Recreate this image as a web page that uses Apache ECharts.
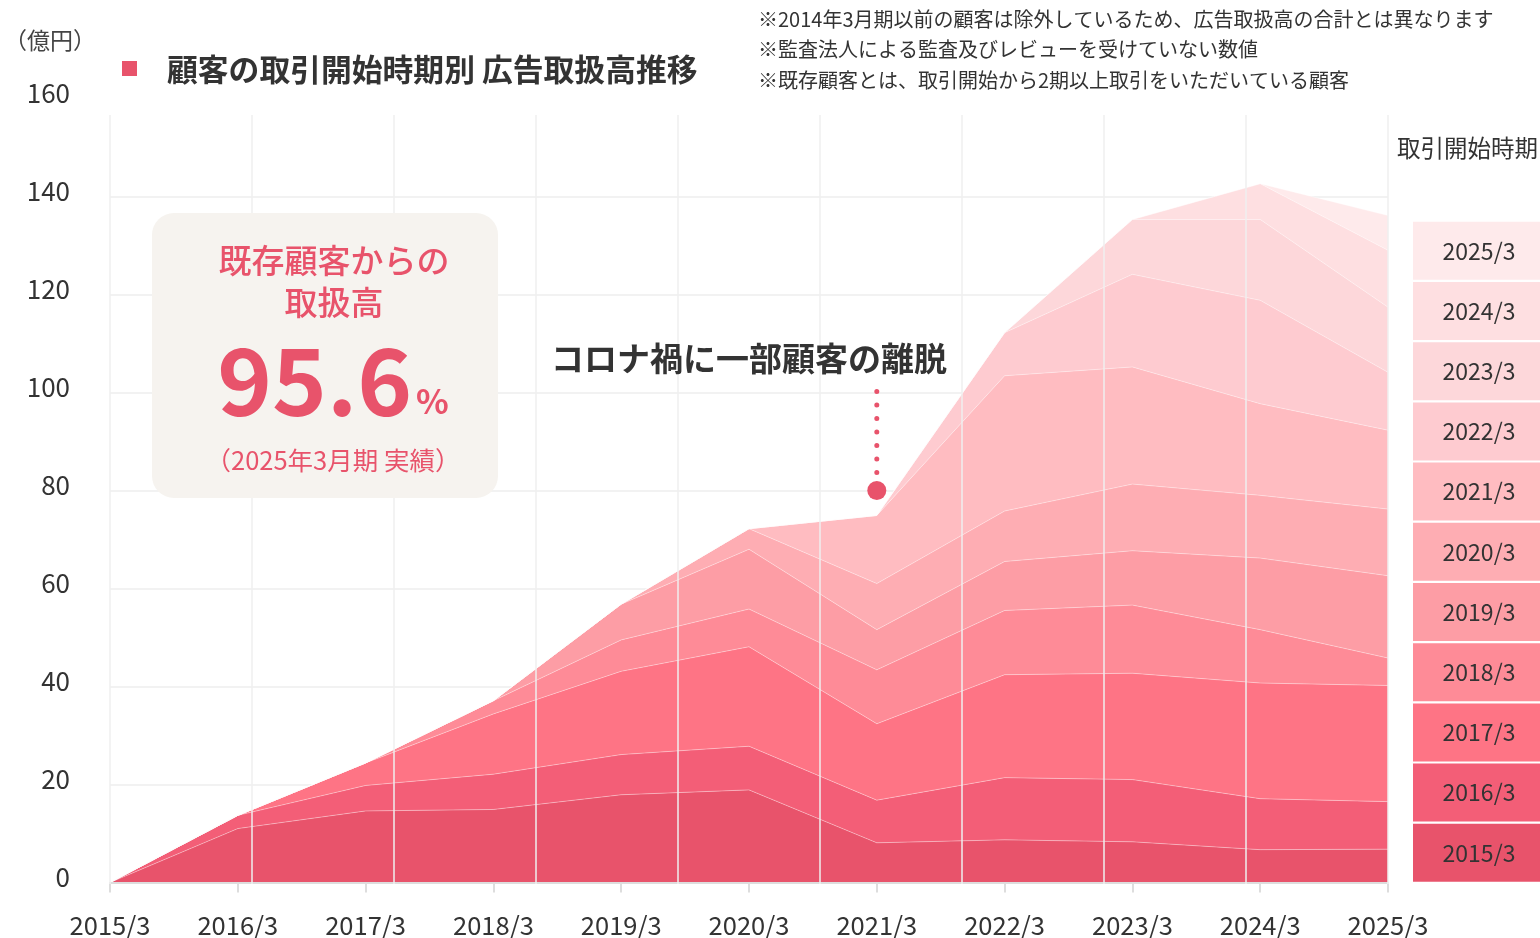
<!DOCTYPE html>
<html>
<head>
<meta charset="utf-8">
<script src="https://cdn.jsdelivr.net/npm/echarts@6/dist/echarts.min.js"></script>
<style>
html,body{margin:0;padding:0;background:#fff;}
#main{width:1540px;height:938px;}
</style>
</head>
<body>
<div id="main"></div>
<script>
// ---- data ----
const categories = ['2015/3','2016/3','2017/3','2018/3','2019/3','2020/3','2021/3','2022/3','2023/3','2024/3','2025/3'];
const cohorts = ['2015/3','2016/3','2017/3','2018/3','2019/3','2020/3','2021/3','2022/3','2023/3','2024/3','2025/3'];
const c2015 = [0, 11.0, 14.6, 14.9, 17.9, 18.9, 8.1, 8.7, 8.3, 6.7, 6.8];
const c2016 = [0, 2.7, 5.2, 7.2, 8.2, 8.9, 8.7, 12.7, 12.7, 10.4, 9.7];
const c2017 = [0, 0, 4.6, 12.3, 17.0, 20.3, 15.6, 21.0, 21.7, 23.6, 23.7];
const c2018 = [0, 0, 0, 2.7, 6.4, 7.7, 11.0, 13.1, 13.9, 10.9, 5.6];
const c2019 = [0, 0, 0, 0, 7.3, 12.2, 8.2, 10.0, 11.1, 14.6, 16.8];
const c2020 = [0, 0, 0, 0, 0, 4.2, 9.4, 10.3, 13.6, 12.8, 13.6];
const c2021 = [0, 0, 0, 0, 0, 0, 13.9, 27.6, 23.9, 18.7, 16.1];
const c2022 = [0, 0, 0, 0, 0, 0, 0, 8.8, 18.9, 21.1, 11.8];
const c2023 = [0, 0, 0, 0, 0, 0, 0, 0, 11.2, 16.5, 13.3];
const c2024 = [0, 0, 0, 0, 0, 0, 0, 0, 0, 7.3, 11.6];
const c2025 = [0, 0, 0, 0, 0, 0, 0, 0, 0, 0, 7.1];
const cohortValues = [c2015, c2016, c2017, c2018, c2019, c2020, c2021, c2022, c2023, c2024, c2025];
const yTickValues = [0, 20, 40, 60, 80, 100, 120, 140, 160];
const calloutCategory = '2021/3';
const calloutDotValue = 80;
const calloutLine = [100.2, 83.5];
const existingShare = '95.6';

// ---- style ----
const colors = ['#e8536b','#f35e77','#fe7485','#fe8b97','#fd9da5','#feadb3','#ffbcc1','#fecbd0','#fdd7da','#fedfe1','#feeaeb'];
const FONT = '"Noto Sans CJK JP", "Noto Sans", sans-serif';
const PINK = '#e8536b';
const TXT = '#333333';

const chart = echarts.init(document.getElementById('main'), null, {renderer: 'canvas'});

const series = cohorts.map((name, i) => ({
  name: name,
  type: 'line',
  stack: 'total',
  data: cohortValues[i],
  symbol: 'none',
  smooth: false,
  lineStyle: {width: 1, color: 'rgba(255,255,255,0.35)'},
  areaStyle: {color: colors[i], opacity: 1},
  z: 2,
  silent: true
}));

series.push({
  type: 'line',
  data: calloutLine.map(v => [calloutCategory, v]),
  symbol: 'none',
  lineStyle: {color: PINK, width: 5, type: [0.01, 13.5], cap: 'round'},
  z: 20,
  silent: true
});
series.push({
  type: 'scatter',
  data: [[calloutCategory, calloutDotValue]],
  symbolSize: 19,
  itemStyle: {color: PINK, opacity: 1},
  z: 21,
  silent: true
});

// legend boxes (graphic), built from the cohort list
const gridBottomY = 884;
const legendPitch = 60.2;
const legendBoxH = 58;
const legendGraphics = [];
cohorts.forEach((name, i) => {
  const top = gridBottomY - (i + 1) * legendPitch;
  legendGraphics.push({
    type: 'rect', shape: {x: 1413, y: top, width: 127, height: legendBoxH},
    style: {fill: colors[i]}, z: 10
  });
  legendGraphics.push({
    type: 'text', x: 1479, y: top + legendBoxH / 2,
    style: {text: name, fill: TXT, font: '23px ' + FONT, align: 'center', verticalAlign: 'middle'}, z: 11
  });
});

const option = {
  backgroundColor: '#ffffff',
  animation: false,
  grid: [
    {left: 110, right: 152, top: 98.4, bottom: 54, containLabel: false},
    {left: 110, right: 152, top: 115, bottom: 54, containLabel: false}
  ],
  xAxis: [
    {
      type: 'category', data: categories, boundaryGap: false, gridIndex: 0,
      axisLine: {show: true, lineStyle: {color: '#dddddd', width: 2}},
      axisTick: {show: true, length: 10, lineStyle: {color: '#dddddd', width: 2}},
      axisLabel: {color: TXT, fontSize: 25.5, fontFamily: FONT, margin: 30},
      splitLine: {show: false},
      z: 5
    },
    {
      type: 'value', gridIndex: 1, min: 0, max: 9, interval: 1,
      axisLine: {show: false}, axisTick: {show: false}, axisLabel: {show: false},
      splitLine: {show: true, lineStyle: {color: '#efefef', width: 1.5}},
      z: 10
    }
  ],
  yAxis: [
    {
      type: 'value', min: yTickValues[0], max: yTickValues[yTickValues.length - 1], interval: 20, gridIndex: 0,
      axisLine: {show: false}, axisTick: {show: false},
      axisLabel: {color: TXT, fontSize: 26, fontFamily: FONT, margin: 40, verticalAlign: 'bottom', lineHeight: 10},
      splitLine: {show: true, showMaxLine: false, lineStyle: {color: '#eeeeee', width: 1.5}}
    },
    {type: 'value', gridIndex: 1, min: 0, max: 1, show: false, splitLine: {show: false}}
  ],
  series: series,
  graphic: [
    {type: 'text', x: 4, y: 40, style: {text: '（億円）', fill: '#444', font: '23px ' + FONT, align: 'left', verticalAlign: 'middle'}},
    {type: 'rect', shape: {x: 122, y: 61, width: 15, height: 15}, style: {fill: PINK}},
    {type: 'text', x: 167, y: 69, style: {text: '顧客の取引開始時期別 広告取扱高推移', fill: TXT, font: 'bold 30.8px ' + FONT, align: 'left', verticalAlign: 'middle'}},
    {type: 'text', x: 758, y: 19, style: {text: '※2014年3月期以前の顧客は除外しているため、広告取扱高の合計とは異なります', fill: TXT, font: '20px ' + FONT, align: 'left', verticalAlign: 'middle'}},
    {type: 'text', x: 758, y: 49, style: {text: '※監査法人による監査及びレビューを受けていない数値', fill: TXT, font: '20px ' + FONT, align: 'left', verticalAlign: 'middle'}},
    {type: 'text', x: 758, y: 80, style: {text: '※既存顧客とは、取引開始から2期以上取引をいただいている顧客', fill: TXT, font: '20px ' + FONT, align: 'left', verticalAlign: 'middle'}},
    {type: 'text', x: 1397, y: 148, style: {text: '取引開始時期', fill: TXT, font: '23.5px ' + FONT, align: 'left', verticalAlign: 'middle'}},
    {type: 'rect', shape: {x: 152, y: 213, width: 346, height: 285, r: 22}, style: {fill: '#f6f3ef'}, z: 30},
    {type: 'text', x: 334, y: 260, style: {text: '既存顧客からの', fill: PINK, font: '500 33px ' + FONT, align: 'center', verticalAlign: 'middle'}, z: 31},
    {type: 'text', x: 334, y: 302, style: {text: '取扱高', fill: PINK, font: '500 33px ' + FONT, align: 'center', verticalAlign: 'middle'}, z: 31},
    {type: 'text', x: 333, y: 381, style: {
      text: '{a|' + existingShare + '}{b|%}', align: 'center', verticalAlign: 'middle',
      rich: {
        a: {fill: PINK, color: PINK, fontSize: 93, fontWeight: 'bold', fontFamily: FONT},
        b: {fill: PINK, color: PINK, fontSize: 34, fontWeight: 'bold', fontFamily: FONT, padding: [40, 0, 0, 4]}
      }
    }, z: 31},
    {type: 'text', x: 333, y: 460, style: {text: '（2025年3月期 実績）', fill: PINK, font: '25.5px ' + FONT, align: 'center', verticalAlign: 'middle'}, z: 31},
    {type: 'text', x: 551, y: 358, style: {text: 'コロナ禍に一部顧客の離脱', fill: TXT, font: 'bold 33px ' + FONT, align: 'left', verticalAlign: 'middle'}, z: 31}
  ].concat(legendGraphics)
};

chart.setOption(option);
</script>
</body>
</html>
